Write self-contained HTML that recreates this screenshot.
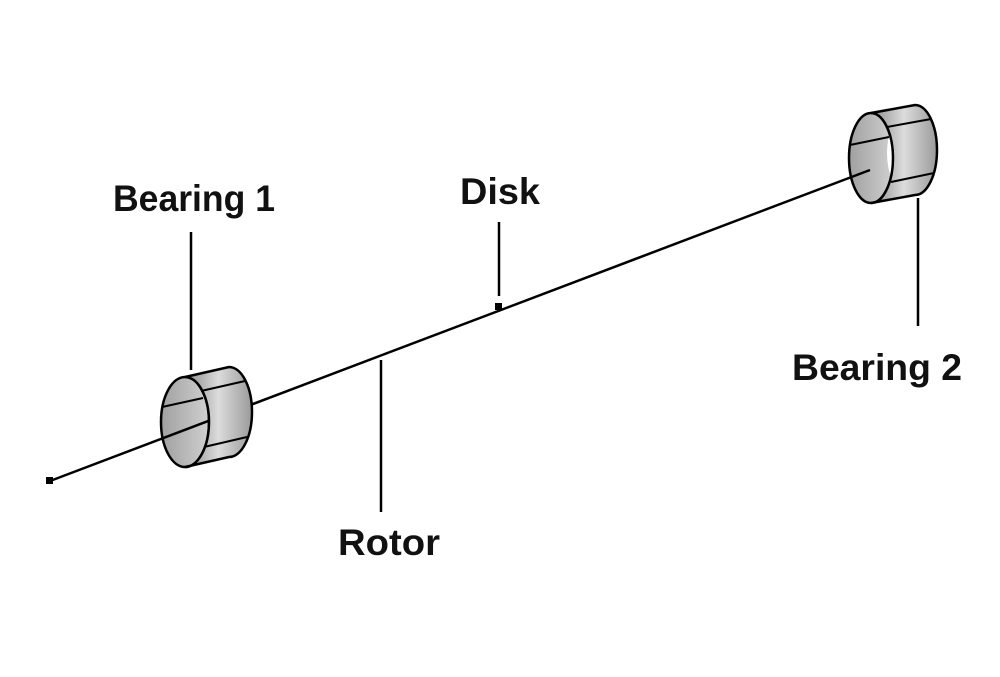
<!DOCTYPE html>
<html><head><meta charset="utf-8"><style>html,body{margin:0;padding:0;background:#fff}svg{display:block}</style></head>
<body>
<svg width="1000" height="677" viewBox="0 0 1000 677" xmlns="http://www.w3.org/2000/svg">
<defs>
<linearGradient id="g" x1="0" y1="0" x2="1" y2="0">
<stop offset="0" stop-color="#8a8a8a"/><stop offset="0.5" stop-color="#dcdcdc"/><stop offset="1" stop-color="#9a9a9a"/>
</linearGradient>
<linearGradient id="gi" x1="0" y1="0" x2="1" y2="0">
<stop offset="0" stop-color="#a0a0a0"/><stop offset="1" stop-color="#d0d0d0"/>
</linearGradient>
<clipPath id="c2"><ellipse cx="871" cy="158" rx="22" ry="45"/></clipPath>
</defs>
<!-- bearing 1 interior -->
<g stroke="#000" stroke-width="2.5">
<ellipse cx="185" cy="422" rx="24" ry="45" fill="url(#gi)"/>
<line x1="162" y1="407" x2="203" y2="398" stroke-width="2"/>
</g>
<!-- bearing 2 interior -->
<g stroke="#000" stroke-width="2.5">
<ellipse cx="871" cy="158" rx="22" ry="45" fill="url(#gi)"/>
<ellipse cx="905" cy="153" rx="18" ry="38" fill="#fff" stroke="none" clip-path="url(#c2)"/>
<line x1="850" y1="145" x2="889" y2="137" stroke-width="2"/>
</g>
<g stroke="#000" stroke-width="2.5" fill="none">
<line x1="50" y1="481" x2="870" y2="170"/>
<line x1="191" y1="232" x2="191" y2="370"/>
<line x1="499" y1="222" x2="499" y2="296"/>
<line x1="381" y1="360" x2="381" y2="512"/>
<line x1="918" y1="198" x2="918" y2="326"/>
</g>
<rect x="46" y="477" width="7" height="7" fill="#000"/>
<rect x="495" y="303" width="7" height="7" fill="#000"/>
<!-- bearing 1 body -->
<g stroke="#000" stroke-width="2.5">
<path d="M185,377 L229,367 A23,45 0 0 1 229,457 L185,467 A24,45 0 0 0 185,377 Z" fill="url(#g)"/>
<line x1="201" y1="391" x2="245" y2="381" stroke-width="2"/>
<line x1="204" y1="447" x2="247" y2="437" stroke-width="2"/>
</g>
<!-- bearing 2 body -->
<g stroke="#000" stroke-width="2.5">
<path d="M871,113 L915,105 A22,45 0 0 1 915,195 L871,203 A22,45 0 0 0 871,113 Z" fill="url(#g)"/>
<line x1="887" y1="127" x2="931" y2="119" stroke-width="2"/>
<line x1="891" y1="182" x2="934" y2="173" stroke-width="2"/>
</g>
<g font-family="Liberation Sans, sans-serif" font-weight="bold" font-size="37" fill="#111">
<text x="113" y="211" textLength="162" lengthAdjust="spacingAndGlyphs">Bearing 1</text>
<text x="460" y="204" textLength="80" lengthAdjust="spacingAndGlyphs">Disk</text>
<text x="792" y="380" textLength="170" lengthAdjust="spacingAndGlyphs">Bearing 2</text>
<text x="338" y="555" textLength="102" lengthAdjust="spacingAndGlyphs">Rotor</text>
</g>
</svg>
</body></html>
